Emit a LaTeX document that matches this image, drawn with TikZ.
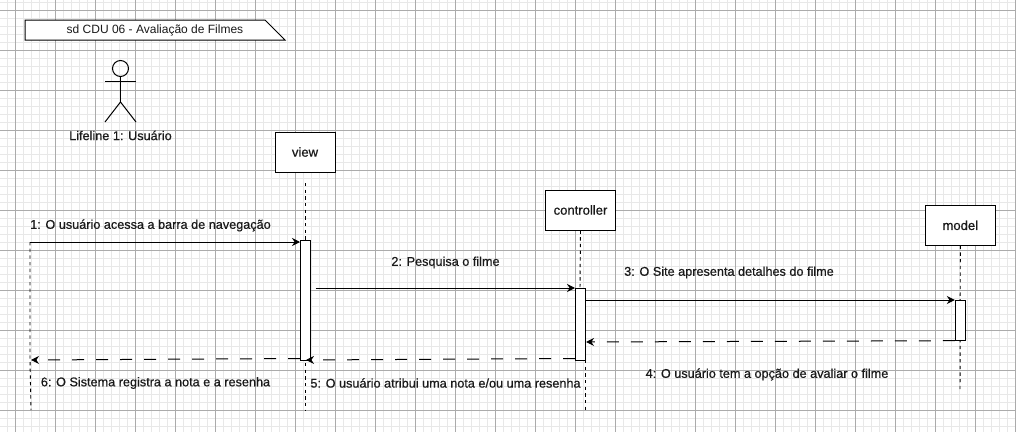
\documentclass[tikz,border=0pt]{standalone}
\usepackage{fontspec}
\setmainfont{Liberation Sans}
\newfontfamily\labelfont[FakeBold=0.6]{Liberation Sans}
\definecolor{mGridMinor}{HTML}{E8E8E8}
\definecolor{mGridMajor}{HTML}{ABABAB}
\definecolor{mInk}{HTML}{1A1A1A}
\usetikzlibrary{positioning,arrows.meta,calc}

\tikzset{
  boxlife/.style={draw=black, line width=0.75pt, fill=white, minimum height=30pt, inner sep=0pt, align=center, text=mInk, font=\labelfont\fontsize{9.8pt}{11pt}\selectfont},
  activation/.style={draw=black, line width=0.75pt, fill=white, minimum width=7.5pt, inner sep=0pt},
  lifeline/.style={draw=black, line width=0.7pt, dash pattern=on 2.5pt off 2.5pt},
  msgcall/.style={draw=black, line width=0.75pt, -{Stealth[length=6pt,width=6pt]}},
  msgreturn/.style={draw=black, line width=0.75pt, dash pattern=on 9pt off 9pt, -{Stealth[length=6pt,width=6pt]}},
  msglabel/.style={text=mInk, inner sep=0pt, font=\labelfont\fontsize{9.5pt}{11pt}\selectfont},
}

\begin{document}
\begin{tikzpicture}[x=0.75pt, y=-0.75pt, font=\fontsize{9pt}{11pt}\selectfont]
\useasboundingbox (0,0) rectangle (1016,432);
\fill[white] (0,0) rectangle (1016,432);
% grid
\foreach \gx in {7,15,...,1016} \draw[mGridMinor, line width=0.5pt] (\gx,0) -- (\gx,432);
\foreach \gy in {2,10,...,432} \draw[mGridMinor, line width=0.5pt] (0,\gy) -- (1016,\gy);
\foreach \gx in {15,55,...,1016} \draw[mGridMajor, line width=0.5pt] (\gx,0) -- (\gx,432);
\foreach \gy in {10,50,...,432} \draw[mGridMajor, line width=0.5pt] (0,\gy) -- (1016,\gy);
% frame title
\draw[black, line width=0.75pt, fill=white] (25,20) -- (265,20) -- (285,40) -- (25,40) -- cycle;
\node[text=mInk, inner sep=0pt] (title) at (155,30) {sd CDU 06 - Avaliação de Filmes};
% actor
\node[draw=black, line width=0.75pt, circle, minimum size=12pt, inner sep=0pt] (head) at (120.5,68.5) {};
\coordinate (hip) at (120.5,102);
\coordinate (armL) at (105,81);
\coordinate (armR) at (136,81);
\coordinate (footL) at (105,122);
\coordinate (footR) at (136,122);
\draw[black, line width=0.75pt] (head.south) -- (hip);
\draw[black, line width=0.75pt] (armL) -- (armR);
\draw[black, line width=0.75pt] (footL) -- (hip) -- (footR);
\node[msglabel] (usuario) at (120.5,135.5) {Lifeline 1: Usuário};
% lifelines
\coordinate (usrTop) at (30,242);
\coordinate (usrMid) at (30,360);
\coordinate (usrEnd) at (31,410);
\coordinate (viewTop) at (305,183);
\coordinate (viewEnd) at (305,410);
\coordinate (ctrlEnd) at (585,410);
\coordinate (modelEnd) at (960,390);
\node[boxlife, minimum width=45pt] (view) at (305,152) {view};
\node[boxlife, minimum width=53pt] (controller) at (580.5,210) {controller};
\node[boxlife, minimum width=52.5pt] (model) at (960.3,225.3) {model};
\draw[lifeline] (usrTop) -- (usrMid) -- (usrEnd);
\draw[lifeline] (viewTop) -- (viewEnd);
\draw[lifeline] (controller.south) -- (580,288);
\draw[lifeline] (585,360) -- (ctrlEnd);
\draw[lifeline] (model.south) -- (modelEnd);
% activations
\node[activation, minimum height=90pt] (ativView) at (305.5,300) {};
\node[activation, minimum height=54pt] (ativCtrl) at (580.5,324.2) {};
\node[activation, minimum height=30pt] (ativModel) at (960.3,320.2) {};
% messages
\coordinate (m1a) at (30,242);
\coordinate (m2a) at (315.5,288);
\coordinate (m3a) at (ativCtrl.east |- 0,300);
\coordinate (m4b) at (586,342);
\coordinate (m5b) at (306,360);
\coordinate (m6b) at (31,360);
\draw[msgcall] (m1a) -- (ativView.west |- m1a);
\draw[msgcall] (m2a) -- (ativCtrl.west |- m2a);
\draw[msgcall] (m3a) -- (ativModel.west |- m3a);
\draw[msgreturn] (ativModel.south west) -- (m4b);
\draw[msgreturn] (ativCtrl.west |- 0,358.5) -- (m5b);
\draw[msgreturn] (ativView.west |- 0,358.5) -- (m6b);
% labels
\node[msglabel] (lab1) at (150.5,225.5) {1: O usuário acessa a barra de navegação};
\node[msglabel] (lab2) at (445.5,262.5) {2: Pesquisa o filme};
\node[msglabel] (lab3) at (729,272.5) {3: O Site apresenta detalhes do filme};
\node[msglabel] (lab4) at (767,374.5) {4: O usuário tem a opção de avaliar o filme};
\node[msglabel] (lab5) at (445.5,383) {5: O usuário atribui uma nota e/ou uma resenha};
\node[msglabel] (lab6) at (155.5,383) {6: O Sistema registra a nota e a resenha};
\end{tikzpicture}
\end{document}
